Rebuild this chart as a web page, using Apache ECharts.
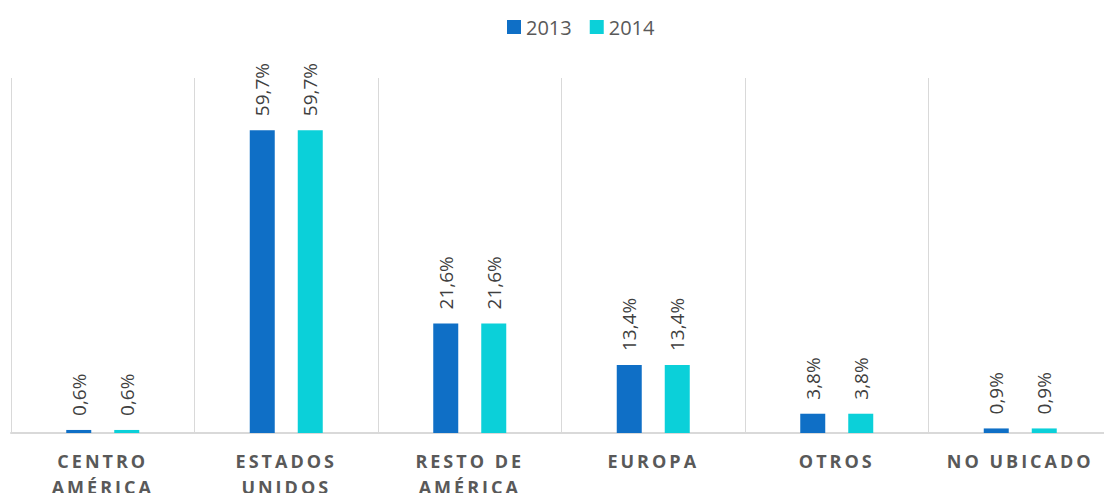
<!DOCTYPE html>
<html>
<head>
<meta charset="utf-8">
<script src="https://cdn.jsdelivr.net/npm/echarts@6/dist/echarts.min.js"></script>
<style>
html,body{margin:0;padding:0;background:#fff;overflow:hidden;}
#chart{width:1104px;height:493px;}
</style>
</head>
<body>
<div id="chart"></div>
<script>
const categories = ['CENTRO\nAMÉRICA', 'ESTADOS\nUNIDOS', 'RESTO DE\nAMÉRICA', 'EUROPA', 'OTROS', 'NO UBICADO'];
const seriesNames = ['2013', '2014'];
const values2013 = [0.6, 59.7, 21.6, 13.4, 3.8, 0.9];
const values2014 = [0.6, 59.7, 21.6, 13.4, 3.8, 0.9];
const colors = ['#0F6FC6', '#0BD0D9'];

const chart = echarts.init(document.getElementById('chart'), null, {renderer: 'svg'});
const labelCfg = {
  show: true,
  position: 'top',
  rotate: 90,
  align: 'left',
  verticalAlign: 'middle',
  distance: 14,
  fontFamily: 'Open Sans',
  fontSize: 19,
  color: '#404040',
  formatter: p => p.value.toFixed(1).replace('.', ',') + '%'
};
chart.setOption({
  animation: false,
  color: colors,
  legend: {
    top: 12,
    left: 502,
    icon: 'rect',
    itemWidth: 14,
    itemHeight: 14,
    itemGap: 18,
    textStyle: {fontFamily: 'Open Sans', fontSize: 20, color: '#595959'},
    data: seriesNames
  },
  grid: {left: 11, top: 78, width: 1101, height: 355, containLabel: false, outerBoundsMode: 'none'},
  xAxis: {
    type: 'category',
    data: categories,
    axisLine: {lineStyle: {color: '#D9D9D9', width: 2}},
    axisTick: {show: false},
    splitLine: {show: true, lineStyle: {color: '#D9D9D9', width: 1}},
    axisLabel: {
      interval: 0,
      margin: 15,
      fontFamily: 'Open Sans',
      fontWeight: 'bold',
      fontSize: 18,
      lineHeight: 26,
      color: '#595959',
      verticalAlign: 'top'
    }
  },
  yAxis: {
    type: 'value',
    min: 0,
    max: 70,
    show: false,
    splitLine: {show: false}
  },
  series: [
    {name: seriesNames[0], type: 'bar', data: values2013, barWidth: 25, barGap: '92%', label: labelCfg},
    {name: seriesNames[1], type: 'bar', data: values2014, barWidth: 25, barGap: '92%', label: labelCfg}
  ]
});

function spaceLabels() {
  const lines = new Set();
  categories.forEach(c => c.split('\n').forEach(l => lines.add(l)));
  document.querySelectorAll('#chart svg text').forEach(t => {
    if (lines.has(t.textContent.trim())) {
      t.setAttribute('letter-spacing', '3');
      t.style.letterSpacing = '3px';
    }
  });
}
chart.on('finished', spaceLabels);
spaceLabels();
</script>
</body>
</html>
